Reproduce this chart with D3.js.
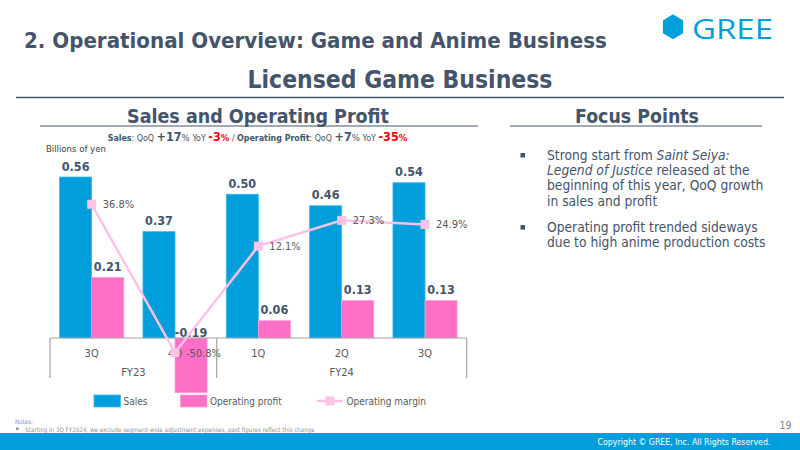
<!DOCTYPE html>
<html>
<head>
<meta charset="utf-8">
<script src="https://cdn.jsdelivr.net/npm/d3@7/dist/d3.min.js"></script>
<style>
  html, body { margin: 0; padding: 0; background: #fff; }
  svg { display: block; }
  text { font-family: "DejaVu Sans Condensed", "DejaVu Sans", sans-serif; }
</style>
</head>
<body>
<svg id="chart" width="800" height="450"></svg>
<script>
// ---------------- data ----------------
const quarters = ["3Q", "4Q", "1Q", "2Q", "3Q"];
const fiscalYears = ["FY23", "FY23", "FY24", "FY24", "FY24"];
const sales = [0.56, 0.37, 0.50, 0.46, 0.54];
const operatingProfit = [0.21, -0.19, 0.06, 0.13, 0.13];
const operatingMargin = [36.8, -50.8, 12.1, 27.3, 24.9];
const seriesNames = ["Sales", "Operating profit", "Operating margin"];
const focusPoints = [
  [[{t: "Strong start from "}, {t: "Saint Seiya:", i: true}],
   [{t: "Legend of Justice", i: true}, {t: " released at the"}],
   [{t: "beginning of this year, QoQ growth"}],
   [{t: "in sales and profit"}]],
  [[{t: "Operating profit trended sideways"}],
   [{t: "due to high anime production costs"}]]
];

// ---------------- style ----------------
const C = {
  dark: "#44546a", grey: "#595959", axis: "#a6a6a6",
  sales: "#009fdb", profit: "#ff6ec7", margin: "#fcc3e6", red: "#ff0000",
  brand: "#009fdb"
};

const svg = d3.select("#chart");
function fit(sel, w) {
  const l = sel.node().getComputedTextLength();
  const fs = parseFloat(sel.attr("font-size"));
  sel.attr("font-size", (fs * w / l).toFixed(2));
  return sel;
}

// ---------------- header ----------------
fit(svg.append("text").attr("x", 24).attr("y", 48).attr("font-size", 20)
  .attr("font-weight", "bold").attr("fill", C.dark)
  .text("2. Operational Overview: Game and Anime Business"), 583);

fit(svg.append("text").attr("x", 400).attr("y", 88).attr("font-size", 22)
  .attr("text-anchor", "middle").attr("font-weight", "bold").attr("fill", C.dark)
  .text("Licensed Game Business"), 305);

svg.append("line").attr("x1", 16).attr("x2", 784).attr("y1", 97.5).attr("y2", 97.5)
  .attr("stroke", C.dark).attr("stroke-width", 1.3);

// logo
const hx = 673, hy = 26.8;
svg.append("path")
  .attr("d", d3.line()([[hx, hy - 11.5], [hx + 9.3, hy - 5.9], [hx + 9.3, hy + 5.9], [hx, hy + 11.5], [hx - 9.3, hy + 5.9], [hx - 9.3, hy - 5.9]]) + "Z")
  .attr("fill", C.brand).attr("stroke", C.brand).attr("stroke-width", 1.6).attr("stroke-linejoin", "round");
svg.append("text").attr("x", 692).attr("y", 39.3).attr("font-size", 28)
  .attr("fill", C.brand).attr("font-weight", 500).attr("textLength", 81).attr("lengthAdjust", "spacingAndGlyphs")
  .style("font-family", "'Open Sans', Lato, sans-serif").text("GREE");

// section titles
fit(svg.append("text").attr("x", 258).attr("y", 123).attr("font-size", 17)
  .attr("text-anchor", "middle").attr("font-weight", "bold").attr("fill", C.dark)
  .text("Sales and Operating Profit"), 262);
svg.append("line").attr("x1", 40).attr("x2", 478).attr("y1", 126).attr("y2", 126)
  .attr("stroke", C.dark).attr("stroke-width", 1);
fit(svg.append("text").attr("x", 637).attr("y", 123).attr("font-size", 17)
  .attr("text-anchor", "middle").attr("font-weight", "bold").attr("fill", C.dark)
  .text("Focus Points"), 124);
svg.append("line").attr("x1", 510).attr("x2", 762).attr("y1", 126).attr("y2", 126)
  .attr("stroke", C.dark).attr("stroke-width", 1);

// subtitle with growth figures
const sub = svg.append("text").attr("x", 257.5).attr("y", 140.5).attr("text-anchor", "middle")
  .attr("fill", C.dark).attr("font-size", 8.8);
const subParts = [
  {t: "Sales", b: true}, {t: ": QoQ "}, {t: "+17", b: true, s: 12.5}, {t: "% ", s: 9.5}, {t: "YoY "},
  {t: "-3", b: true, s: 12.5, c: C.red}, {t: "%", s: 9.5, c: C.red, b: true}, {t: " / "},
  {t: "Operating Profit", b: true}, {t: ": QoQ "}, {t: "+7", b: true, s: 12.5}, {t: "% ", s: 9.5}, {t: "YoY "},
  {t: "-35", b: true, s: 12.5, c: C.red}, {t: "%", s: 9.5, c: C.red, b: true}
];
subParts.forEach(p => {
  const ts = sub.append("tspan").text(p.t);
  if (p.b) ts.attr("font-weight", "bold");
  if (p.s) ts.attr("font-size", p.s);
  if (p.c) ts.attr("fill", p.c);
});
sub.style("white-space", "pre");

svg.append("text").attr("x", 46).attr("y", 152).attr("font-size", 9.5)
  .attr("fill", "#404040").text("Billions of yen");

// ---------------- chart ----------------
const idx = d3.range(quarters.length);
const x = d3.scaleBand().domain(idx).range([50, 466.7]).paddingInner(0).paddingOuter(0);
const xs = d3.scaleBand().domain([0, 1]).range([9.6, x.bandwidth() - 9.6]);
const y = d3.scaleLinear().domain([-0.2, 0.6]).range([395.5, 165.5]);
const y2 = d3.scaleLinear().domain([-60, 60]).range([368.2, 165]);

const g = svg.append("g");
const seriesVals = [sales, operatingProfit];
const seriesCols = [C.sales, C.profit];
seriesVals.forEach((vals, si) => {
  g.selectAll(null).data(idx).enter().append("rect")
    .attr("x", i => x(i) + xs(si))
    .attr("width", xs.bandwidth())
    .attr("y", i => y(Math.max(0, vals[i])))
    .attr("height", i => Math.abs(y(vals[i]) - y(0)))
    .attr("fill", seriesCols[si])
    .attr("stroke", si === 0 ? "#3fb8e6" : "#ff9bd8").attr("stroke-width", 0.8);
});

// axis box
const y0 = y(0), yBottom = 378;
g.append("line").attr("x1", x.range()[0]).attr("x2", x.range()[1]).attr("y1", y0).attr("y2", y0)
  .attr("stroke", C.axis).attr("stroke-width", 1.2);
const groupEdges = [0];
idx.forEach(i => { if (i > 0 && fiscalYears[i] !== fiscalYears[i - 1]) groupEdges.push(i); });
groupEdges.push(idx.length);
groupEdges.forEach(e => {
  const ex = e === idx.length ? x.range()[1] : x(e);
  g.append("line").attr("x1", ex).attr("x2", ex).attr("y1", y0).attr("y2", yBottom)
    .attr("stroke", C.axis).attr("stroke-width", 1.2);
});
g.selectAll(null).data(idx).enter().append("text")
  .attr("x", i => x(i) + x.bandwidth() / 2).attr("y", 357)
  .attr("text-anchor", "middle").attr("font-size", 11).attr("fill", C.grey)
  .text(i => quarters[i]);
for (let k = 0; k < groupEdges.length - 1; k++) {
  const a = x(groupEdges[k]);
  const b = groupEdges[k + 1] === idx.length ? x.range()[1] : x(groupEdges[k + 1]);
  g.append("text").attr("x", (a + b) / 2).attr("y", 375.5).attr("text-anchor", "middle")
    .attr("font-size", 11).attr("fill", C.grey).text(fiscalYears[groupEdges[k]]);
}

// bar value labels
seriesVals.forEach((vals, si) => {
  g.selectAll(null).data(idx).enter().append("text")
    .attr("x", i => x(i) + xs(si) + xs.bandwidth() / 2)
    .attr("y", i => vals[i] >= 0 ? y(vals[i]) - 6.5 : y0 - 1.5)
    .attr("text-anchor", "middle").attr("font-size", 12.5).attr("font-weight", "bold")
    .attr("fill", C.dark).text(i => vals[i].toFixed(2));
});

// operating margin line
const cx = i => x(i) + x.bandwidth() / 2;
g.append("path").datum(idx)
  .attr("d", d3.line().x(cx).y(i => y2(operatingMargin[i])))
  .attr("fill", "none").attr("stroke", C.margin).attr("stroke-width", 2.5);
g.selectAll(null).data(idx).enter().append("rect")
  .attr("x", i => cx(i) - 4.5).attr("y", i => y2(operatingMargin[i]) - 4.5)
  .attr("width", 9).attr("height", 9).attr("fill", C.margin);
g.selectAll(null).data(idx).enter().append("text")
  .attr("x", i => cx(i) + 11).attr("y", i => y2(operatingMargin[i]) + 4)
  .attr("font-size", 11).attr("fill", C.grey)
  .text(i => operatingMargin[i].toFixed(1) + "%");

// legend
const leg = svg.append("g");
const legX = [94, 180.5, 317];
[0, 1].forEach(k => {
  leg.append("rect").attr("x", legX[k]).attr("y", 395).attr("width", 26.5).attr("height", 12)
    .attr("fill", seriesCols[k]).attr("stroke", k === 0 ? "#3fb8e6" : "#ff9bd8").attr("stroke-width", 0.8);
});
leg.append("line").attr("x1", legX[2]).attr("x2", legX[2] + 26).attr("y1", 401).attr("y2", 401)
  .attr("stroke", C.margin).attr("stroke-width", 2.5);
leg.append("rect").attr("x", legX[2] + 8.5).attr("y", 396.5).attr("width", 9).attr("height", 9).attr("fill", C.margin);
seriesNames.forEach((n, k) => {
  leg.append("text").attr("x", legX[k] + 29.5).attr("y", 405).attr("font-size", 10)
    .attr("fill", C.grey).text(n);
});

// ---------------- focus points ----------------
const fp = svg.append("g");
let ly = 159.5;
focusPoints.forEach((block, bi) => {
  fp.append("rect").attr("x", 520.5).attr("y", ly - 6.5).attr("width", 4.5).attr("height", 4.5).attr("fill", C.dark);
  block.forEach(line => {
    const t = fp.append("text").attr("x", 547).attr("y", ly).attr("font-size", 13.7).attr("fill", C.dark);
    line.forEach(seg => {
      const ts = t.append("tspan").text(seg.t);
      if (seg.i) ts.attr("font-style", "italic");
    });
    t.style("white-space", "pre");
    ly += 15.4;
  });
  ly += 10.5;
});

// ---------------- footer ----------------
svg.append("text").attr("x", 15).attr("y", 423.5).attr("font-size", 6.2).attr("fill", "#8a94a0").text("Notes:");
svg.append("rect").attr("x", 16).attr("y", 427.5).attr("width", 2.5).attr("height", 2.5).attr("fill", "#8a94a0");
fit(svg.append("text").attr("x", 25).attr("y", 431.5).attr("font-size", 6.5).attr("fill", "#8a94a0")
  .text("Starting in 3Q FY2024, we exclude segment-wide adjustment expenses, past figures reflect this change"), 290);
svg.append("text").attr("x", 791.5).attr("y", 429).attr("text-anchor", "end").attr("font-size", 10.5)
  .attr("fill", "#7f7f7f").text("19");
svg.append("rect").attr("x", 0).attr("y", 433).attr("width", 800).attr("height", 17).attr("fill", C.brand);
fit(svg.append("text").attr("x", 684).attr("y", 445).attr("text-anchor", "middle").attr("font-size", 9.5)
  .attr("fill", "#ffffff").text("Copyright © GREE, Inc. All Rights Reserved."), 173);
</script>
</body>
</html>
